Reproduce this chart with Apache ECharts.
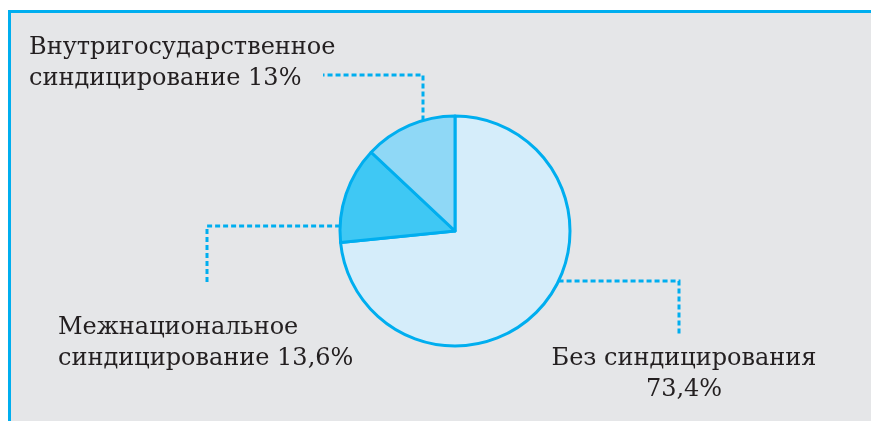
<!DOCTYPE html>
<html>
<head>
<meta charset="utf-8">
<script src="https://cdn.jsdelivr.net/npm/echarts@6/dist/echarts.min.js"></script>
<style>
  html, body { margin: 0; padding: 0; background: #fff; overflow: hidden; }
  #chart { width: 871px; height: 421px; }
</style>
</head>
<body>
<div id="chart"></div>
<script>
// данные диаграммы
const names = ['Без синдицирования', 'Межнациональное\nсиндицирование', 'Внутригосударственное\nсиндицирование']
const values = [73.4, 13.6, 13]
const colors = ['#d5edfa', '#3fc8f4', '#8fd8f6']

const cx = 455, cy = 231, r = 115
// точка на окружности по x (сверху / снизу) или по y (слева / справа)
const onCircleX = (x, up) => [x, cy + (up ? -1 : 1) * Math.sqrt(r * r - (x - cx) * (x - cx))]
const onCircleY = (y, left) => [cx + (left ? -1 : 1) * Math.sqrt(r * r - (y - cy) * (y - cy)), y]

// выноски: положение подписи и ломаная линия
const leaders = [
  { x: 684, y: 374, align: 'center', pts: [onCircleY(281, false), [679, 281], [679, 335]] },
  { x: 58, y: 343, align: 'left', pts: [onCircleY(226, true), [207, 226], [207, 284]] },
  { x: 29, y: 63, align: 'left', pts: [onCircleX(423, true), [423, 75], [323, 75]] },
]

const chart = echarts.init(document.getElementById('chart'))
chart.setOption({
  animation: false,
  graphic: [
    {
      type: 'rect',
      z: -10,
      shape: { x: 9, y: 11, width: 862, height: 410 },
      style: { fill: '#e5e6e8' },
    },
    {
      type: 'polyline',
      z: -9,
      shape: { points: [[9.5, 421], [9.5, 11.5], [871, 11.5]] },
      style: { stroke: '#00aeef', lineWidth: 3, fill: null },
    },
  ],
  series: [{
    type: 'pie',
    center: [cx, cy],
    radius: r,
    startAngle: 90,
    clockwise: true,
    data: names.map((n, i) => ({ name: n, value: values[i], itemStyle: { color: colors[i] } })),
    itemStyle: { borderColor: '#00aeef', borderWidth: 3 },
    label: {
      show: true,
      position: 'outside',
      overflow: 'none',
      fontFamily: 'DejaVu Serif',
      fontSize: 24,
      lineHeight: 31,
      color: '#231f20',
      formatter: p => p.name + (p.dataIndex === 0 ? '\n' : ' ') + String(p.value).replace('.', ',') + '%',
    },
    labelLine: {
      show: true,
      lineStyle: { color: '#00aeef', width: 3, type: [5, 3] },
    },
    labelLayout: p => {
      const l = leaders[p.dataIndex]
      return { x: l.x, y: l.y, align: l.align, verticalAlign: 'middle', labelLinePoints: l.pts }
    },
    emphasis: { disabled: true },
  }],
})
</script>
</body>
</html>
